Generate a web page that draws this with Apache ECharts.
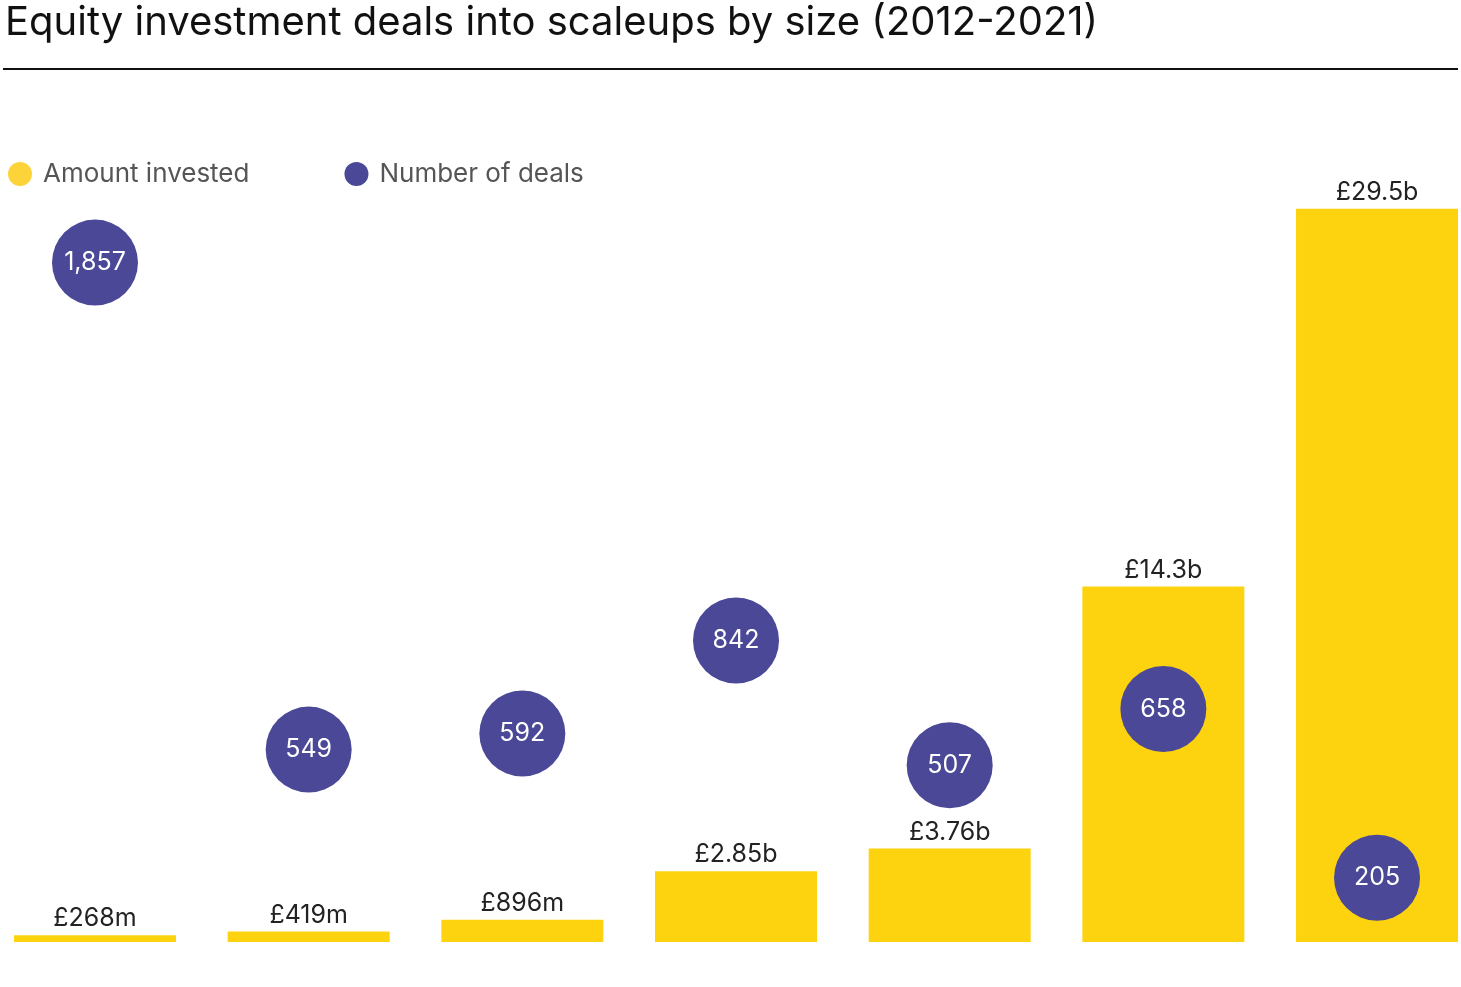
<!DOCTYPE html>
<html><head><meta charset="utf-8">
<script src="https://cdn.jsdelivr.net/npm/echarts@6/dist/echarts.min.js"></script>
<style>html,body{margin:0;padding:0;background:#fff}#c{width:1461px;height:987px}</style>
</head><body><div id="c"></div>
<script>
const categories = ['<£500k','£500k–£1m','£1m–£2m','£2m–£5m','£5m–£10m','£10m–£50m','>£50m'];
const amountBn = [0.268,0.419,0.896,2.85,3.76,14.3,29.5];
const amountLabels = ['£268m','£419m','£896m','£2.85b','£3.76b','£14.3b','£29.5b'];
const deals = [1857,549,592,842,507,658,205];
const font = 'Inter, Roboto, sans-serif';
const xMin = -95/213.67, xMax = xMin + 1461/213.67;
const chart = echarts.init(document.getElementById('c'));
const xAx = i => ({type:'value',gridIndex:i,min:xMin,max:xMax,show:false});
chart.setOption({
  animation:false,
  title:{text:'Equity investment deals into scaleups by size (2012-2021)',left:0,top:-2,
    textStyle:{fontFamily:font,fontSize:40,fontWeight:'normal',color:'#111'}},
  graphic:[{type:'line',shape:{x1:3,y1:69,x2:1458,y2:69},style:{stroke:'#111',lineWidth:2}}],
  legend:{left:3,top:156,itemWidth:24,itemHeight:24,itemGap:95,icon:'circle',
    textStyle:{fontFamily:font,fontSize:26,color:'#555',padding:[0,0,0,6]},
    data:[{name:'Amount invested',itemStyle:{color:'#fdd33a'}},{name:'Number of deals',itemStyle:{color:'#4a4897'}}]},
  grid:[{left:0,right:0,top:100,bottom:45},{left:0,right:0,top:100,bottom:33}],
  xAxis:[xAx(0),xAx(1)],
  yAxis:[{type:'value',gridIndex:0,min:0,max:33.88,show:false},
         {type:'value',gridIndex:1,min:0,max:2293.8,show:false}],
  series:[
    {name:'Amount invested',type:'bar',data:amountBn.map((v,i)=>[i,v]),barWidth:162,itemStyle:{color:'#fdd30f'},
     label:{show:true,position:'top',distance:4,fontFamily:font,fontSize:25,color:'#222',
       formatter:p=>amountLabels[p.dataIndex]}},
    {name:'cats',type:'scatter',data:categories.map((c,i)=>[i,0]),symbolSize:1,itemStyle:{opacity:0},silent:true,
     label:{show:true,position:'bottom',distance:16,fontFamily:font,fontSize:25,color:'#333',
       formatter:p=>categories[p.dataIndex]}},
    {name:'Number of deals',type:'scatter',xAxisIndex:1,yAxisIndex:1,data:deals.map((v,i)=>[i,v]),symbolSize:86,z:5,
     itemStyle:{color:'#4a4897',opacity:1},
     label:{show:true,position:'inside',fontFamily:font,fontSize:25,color:'#fff',
       formatter:p=>p.value[1].toLocaleString('en-US')}}
  ]
});
</script></body></html>
